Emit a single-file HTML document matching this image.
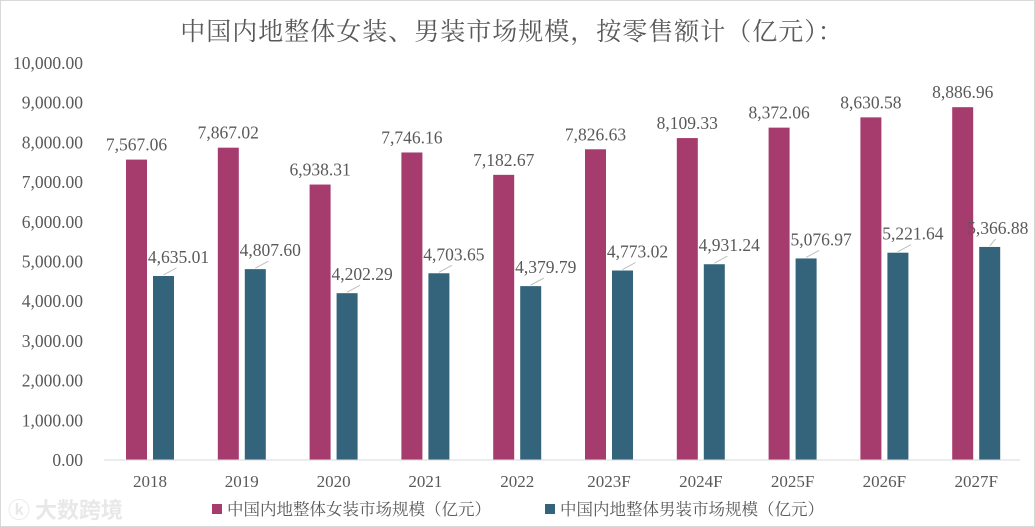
<!DOCTYPE html>
<html><head><meta charset="utf-8">
<style>
html,body{margin:0;padding:0;background:#fff;}
svg{display:block;}
text{font-family:"Liberation Serif","Noto Serif CJK SC",serif;fill:#595959;}
</style></head>
<body>
<svg id="chart" width="1035" height="527" viewBox="0 0 1035 527" xmlns="http://www.w3.org/2000/svg">
<rect x="0.5" y="0.5" width="1034" height="526" fill="#fff" stroke="#d9d9d9"/>
<text x="512" y="40" text-anchor="middle" font-size="25" letter-spacing="1" style="font-family:'Noto Serif CJK SC',serif" fill="#595959">中国内地整体女装、男装市场规模，按零售额计（亿元）：</text>
<g id="yaxis"></g>
<g id="bars"></g>
<g id="xaxis"></g>
<g>
<g>
<rect x="212" y="504" width="10" height="10" fill="#a63c6e"/>
<text x="227" y="515" font-size="16.5" style="font-family:'Noto Serif CJK SC',serif">中国内地整体女装市场规模（亿元）</text>
</g>
<g>
<rect x="545" y="504" width="10" height="10" fill="#34647c"/>
<text x="560" y="515" font-size="16.5" style="font-family:'Noto Serif CJK SC',serif">中国内地整体男装市场规模（亿元）</text>
</g>
</g>
<text x="8" y="518" font-size="22" font-weight="bold" style="font-family:'Noto Sans CJK SC',sans-serif;fill:#e8e8e8">ⓚ 大数跨境</text>
</svg>
<script>
const categories=["2018","2019","2020","2021","2022","2023F","2024F","2025F","2026F","2027F"];
const womenValues=[7567.06,7867.02,6938.31,7746.16,7182.67,7826.63,8109.33,8372.06,8630.58,8886.96];
const menValues=[4635.01,4807.60,4202.29,4703.65,4379.79,4773.02,4931.24,5076.97,5221.64,5366.88];
const yTicks=[0,1000,2000,3000,4000,5000,6000,7000,8000,9000,10000];
const NS="http://www.w3.org/2000/svg";
const y0=460,yTop=63,yMax=10000,x0=150,step=91.8,bw=21;
function y(v){return y0-(v/yMax)*(y0-yTop);}
function xc(i){return x0+i*step;}
function fmt(v){return v.toLocaleString("en-US",{minimumFractionDigits:2,maximumFractionDigits:2});}
function mk(tag,attrs,parent,txt){const e=document.createElementNS(NS,tag);for(const k in attrs)e.setAttribute(k,attrs[k]);if(txt!==undefined)e.textContent=txt;parent.appendChild(e);return e;}
const ya=document.getElementById("yaxis"),ba=document.getElementById("bars"),xa=document.getElementById("xaxis");
yTicks.forEach(t=>{const e=mk("text",{x:83,y:y(t)+6,"text-anchor":"end","font-size":"17.5"},ya,fmt(t));

});
const base=mk("line",{x1:104,x2:1020,y1:y0,y2:y0,stroke:"#d9d9d9","stroke-width":"1"},xa);


const n=categories.length;
categories.forEach((c,i)=>{
 const cx=xc(i);
 const l=mk("text",{x:cx,y:487,"text-anchor":"middle","font-size":"17"},xa,c);
 
 
 const w=womenValues[i],m=menValues[i];
 const bwm=mk("rect",{x:cx-bw-3,y:y(w),width:bw,height:y0-y(w),fill:"#a63c6e"},ba);
 
 
 const lw=mk("text",{x:cx-bw/2-3,y:y(w)-9,"text-anchor":"middle","font-size":"17.5"},ba,fmt(w));
 
 
 const bm=mk("rect",{x:cx+3,y:y(m),width:bw,height:y0-y(m),fill:"#34647c"},ba);
 
 
 const bc=cx+3+bw/2;
 const off=(i===n-1)?8:15;
 const ln=mk("line",{x1:bc,y1:y(m)-1,x2:bc+(i===n-1?6:13),y2:y(m)-8,stroke:"#bfbfbf","stroke-width":"1"},ba);
 
 
 const lm=mk("text",{x:bc+off,y:y(m)-13,"text-anchor":"middle","font-size":"17.5"},ba,fmt(m));
 
 
});
</script>
</body></html>
